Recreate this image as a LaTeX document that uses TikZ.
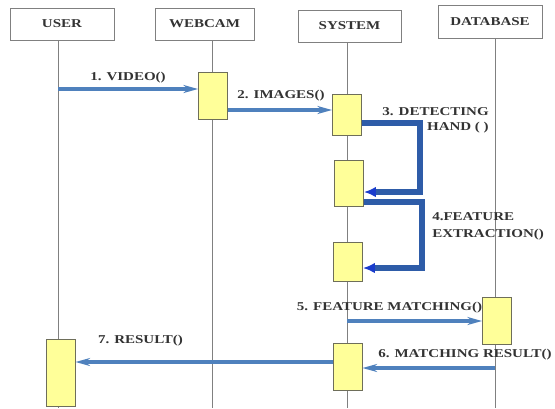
\documentclass[tikz,border=0pt]{standalone}
\usepackage{fontspec}
\setmainfont{Liberation Serif}[FakeStretch=1.25]
\usetikzlibrary{arrows.meta}
\definecolor{boxgray}{HTML}{808080}
\definecolor{actfill}{HTML}{FFFF99}
\definecolor{actline}{HTML}{6E6E5A}
\definecolor{msgblue}{HTML}{4F81BD}
\definecolor{selfblue}{HTML}{2E5CA8}
\definecolor{tipblue}{HTML}{1A3CCC}
\definecolor{txtgray}{HTML}{333333}
\tikzset{
  header/.style = {draw=boxgray, fill=white, inner sep=0, minimum height=24pt,
    font=\fontsize{9}{11}\selectfont\bfseries, text=txtgray},
  act/.style = {draw=actline, fill=actfill, inner sep=0, minimum width=22pt},
  life/.style = {boxgray, line width=0.7pt},
  msg/.style = {msgblue, line width=2.6pt, -{Stealth[length=11pt,width=6pt]}},
  selfmsg/.style = {selfblue, line width=3.8pt,
    -{Latex[length=9pt,width=8pt,color=tipblue]}},
  lbl/.style = {inner sep=0, font=\fontsize{9}{11}\selectfont\bfseries, text=txtgray}
}

\begin{document}
\begin{tikzpicture}[x=0.75pt,y=-0.75pt]
  \useasboundingbox (0,0) rectangle (555,408);
  % objects
  \node[header, minimum width=78pt] (user) at (62,24) {USER};
  \node[header, minimum width=74pt] (webcam) at (204.5,24) {WEBCAM};
  \node[header, minimum width=77pt] (system) at (349.5,26) {SYSTEM};
  \node[header, minimum width=78pt, minimum height=25pt] (database) at (490,21.5) {DATABASE};
  % lifelines
  \draw[life] (user.south -| 58,0) -- (58,408);
  \draw[life] (webcam.south -| 212,0) -- (212,408);
  \draw[life] (system.south -| 347,0) -- (347,408);
  \draw[life] (database.south -| 495,0) -- (495,408);
  % activations
  \node[act, minimum height=35pt] (actW) at (213,95.5) {};
  \node[act, minimum height=31pt] (actS1) at (347,114.5) {};
  \node[act, minimum height=34.5pt] (actS2) at (349,183) {};
  \node[act, minimum height=29pt] (actS3) at (348,261.5) {};
  \node[act, minimum height=35pt] (actD) at (497,320.5) {};
  \node[act, minimum height=35pt] (actS4) at (347.5,366.5) {};
  \node[act, minimum height=50pt] (actU) at (60.5,373) {};
  % messages
  \draw[msg] (user.south |- 0,89) ++(-4,0) -- (actW.west |- 0,89);
  \node[lbl] (l1) at (128,78) {1. VIDEO()};
  \draw[msg] (actW.east |- 0,110) -- (actS1.west |- 0,110);
  \node[lbl] (l2) at (281,96) {2. IMAGES()};
  \draw[selfmsg] (actS1.east |- 0,123) -- (420,123) -- (420,192) -- (actS2.east |- 0,192);
  \node[lbl, anchor=east, align=right] (l3) at (489,120) {3. DETECTING\\HAND ( )};
  \draw[selfmsg] (actS2.east |- 0,202) -- (422,202) -- (422,268) -- (actS3.east |- 0,268);
  \node[lbl, anchor=west, align=left] (l4) at (432,226) {4.FEATURE\\[2pt]EXTRACTION()};
  \draw[msg] (system.south |- 0,321) ++(-2.5,0) -- (actD.west |- 0,321);
  \node[lbl] (l5) at (389.5,308) {5. FEATURE MATCHING()};
  \draw[msg] (database.south |- 0,368) ++(5,0) -- (actS4.east |- 0,368);
  \node[lbl] (l6) at (465,355) {6. MATCHING RESULT()};
  \draw[msg] (actS4.west |- 0,362) -- (actU.east |- 0,362);
  \node[lbl] (l7) at (140.5,341) {7. RESULT()};
\end{tikzpicture}
\end{document}
